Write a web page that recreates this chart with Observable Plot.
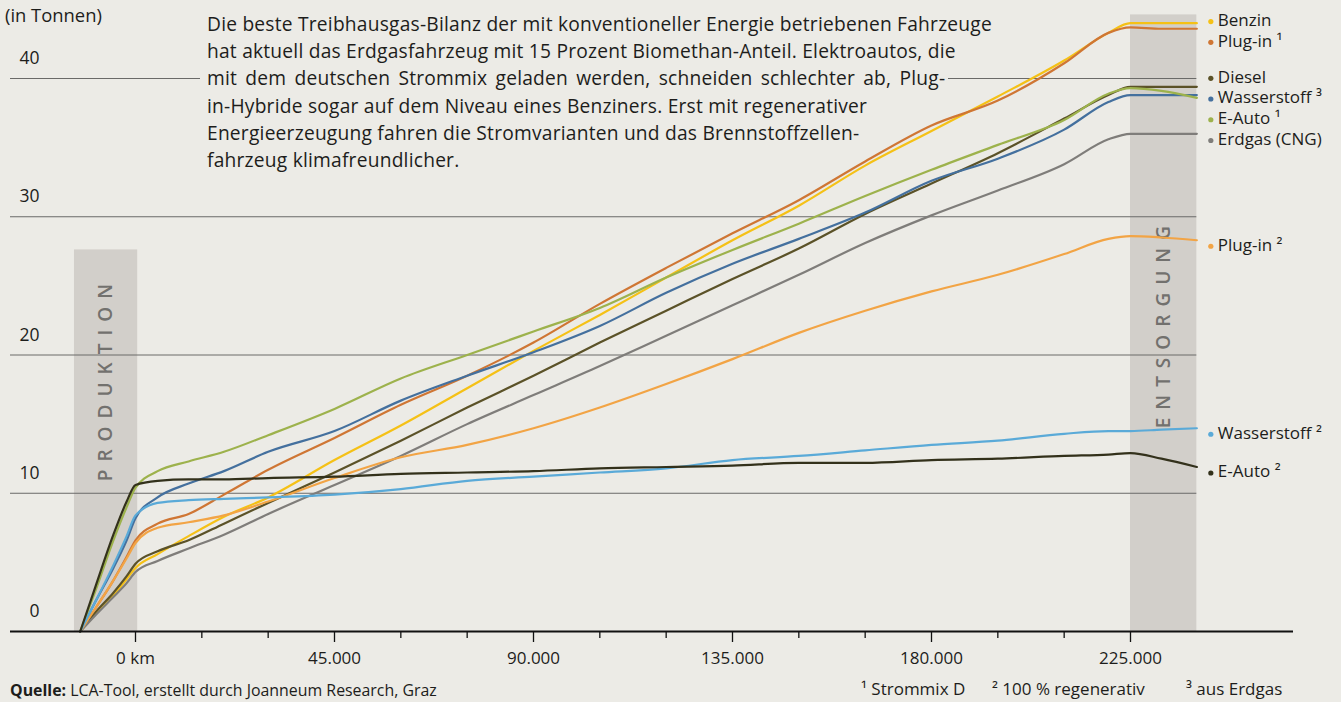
<!DOCTYPE html>
<html><head><meta charset="utf-8">
<script src="https://cdn.jsdelivr.net/npm/d3@7"></script>
<script src="https://cdn.jsdelivr.net/npm/@observablehq/plot@0.6"></script>
<style>
html,body{margin:0;padding:0;background:#ecebe6;}
#wrap{position:relative;width:1341px;height:702px;overflow:hidden;font-family:"Open Sans",sans-serif;color:#1d1d1b;}
#chart{position:absolute;left:0;top:0;}
.unit{position:absolute;left:5px;top:2px;font-size:18.4px;line-height:26px;}
.para{position:absolute;left:200px;top:10px;font-size:19.2px;letter-spacing:0.22px;line-height:27.2px;}
.para div{background:#ecebe6;width:fit-content;padding-left:7px;padding-right:3px;white-space:nowrap;}
.para div.wide{word-spacing:3px;}
.src{position:absolute;left:10px;top:679px;font-size:15.9px;line-height:22px;white-space:nowrap;}
.src b{font-weight:700;}
.note{position:absolute;top:677px;font-size:17px;line-height:24px;white-space:nowrap;}
</style>
</head>
<body>
<div id="wrap">
  <div id="chart"></div>
  <div class="unit">(in Tonnen)</div>
  <div class="para">
    <div>Die beste Treibhausgas-Bilanz der mit konventioneller Energie betriebenen Fahrzeuge</div>
    <div>hat aktuell das Erdgasfahrzeug mit 15 Prozent Biomethan-Anteil. Elektroautos, die</div>
    <div class="wide">mit dem deutschen Strommix geladen werden, schneiden schlechter ab, Plug-</div>
    <div>in-Hybride sogar auf dem Niveau eines Benziners. Erst mit regenerativer</div>
    <div>Energieerzeugung fahren die Stromvarianten und das Brennstoffzellen-</div>
    <div>fahrzeug klimafreundlicher.</div>
  </div>
  <div class="src"><b>Quelle:</b> LCA-Tool, erstellt durch Joanneum Research, Graz</div>
  <div class="note" style="left:861px">¹ Strommix D</div>
  <div class="note" style="left:992px">² 100 % regenerativ</div>
  <div class="note" style="left:1186px">³ aus Erdgas</div>
</div>
<script>
// Kilometerstand (negative Werte = Produktionsphase, > 225.000 = Entsorgung)
const km = [-12500, -9000, -5000, -2000, 0, 5000, 12000, 20000, 30000, 45000, 60000, 75000, 90000,
  105000, 120000, 135000, 150000, 165000, 180000, 195000, 210000, 220000, 225000, 232000, 240000];

// CO2-Bilanz in Tonnen
const benzin  = [0, 1.3, 2.6, 3.8, 4.6, 5.6, 6.9, 8.3, 9.7, 12.4, 14.9, 17.6, 20.3, 22.9, 25.6, 28.3, 30.8, 33.7, 36.2, 38.7, 41.3, 43.3, 44.0, 44.0, 44.0];
const plugin1 = [0, 1.7, 3.7, 5.4, 6.6, 7.8, 8.5, 9.9, 11.7, 14.0, 16.4, 18.5, 20.9, 23.7, 26.3, 28.8, 31.2, 34.0, 36.6, 38.4, 41.1, 43.3, 43.7, 43.6, 43.6];
const diesel  = [0, 1.4, 2.8, 4.0, 4.9, 5.8, 6.6, 7.8, 9.3, 11.5, 13.8, 16.2, 18.5, 20.9, 23.2, 25.5, 27.7, 30.2, 32.4, 34.6, 37.1, 38.8, 39.4, 39.4, 39.4];
const wasser3 = [0, 2.2, 4.6, 6.6, 8.2, 9.7, 10.7, 11.6, 13.0, 14.5, 16.7, 18.5, 20.2, 22.1, 24.5, 26.6, 28.4, 30.3, 32.6, 34.2, 36.3, 38.3, 38.8, 38.8, 38.8];
const eauto1  = [0, 3.0, 6.6, 9.0, 10.4, 11.6, 12.3, 13.0, 14.2, 16.1, 18.3, 20.0, 21.7, 23.4, 25.6, 27.6, 29.5, 31.5, 33.4, 35.2, 37.0, 38.9, 39.3, 39.1, 38.6];
const erdgas  = [0, 1.2, 2.5, 3.5, 4.3, 5.1, 6.0, 7.0, 8.5, 10.6, 12.7, 15.0, 17.1, 19.2, 21.4, 23.6, 25.8, 28.1, 30.1, 31.9, 33.8, 35.6, 36.0, 36.0, 36.0];
const plugin2 = [0, 1.7, 3.7, 5.3, 6.4, 7.5, 7.9, 8.4, 9.4, 11.1, 12.6, 13.5, 14.7, 16.2, 17.9, 19.7, 21.6, 23.2, 24.6, 25.8, 27.3, 28.4, 28.6, 28.5, 28.3];
const wasser2 = [0, 2.2, 4.8, 6.9, 8.4, 9.3, 9.5, 9.6, 9.7, 9.9, 10.3, 10.9, 11.2, 11.5, 11.8, 12.4, 12.7, 13.1, 13.5, 13.8, 14.3, 14.5, 14.5, 14.6, 14.7];
const eauto2  = [0, 3.3, 7.0, 9.4, 10.6, 10.9, 11.0, 11.0, 11.1, 11.2, 11.4, 11.5, 11.6, 11.8, 11.9, 12.0, 12.2, 12.2, 12.4, 12.5, 12.7, 12.8, 12.9, 12.5, 11.9];

const seriesNames = ["Benzin", "Plug-in ¹", "Diesel", "Wasserstoff ³", "E-Auto ¹", "Erdgas (CNG)", "Plug-in ²", "Wasserstoff ²", "E-Auto ²"];
const seriesValues = [benzin, plugin1, diesel, wasser3, eauto1, erdgas, plugin2, wasser2, eauto2];
const seriesColors = ["#f5c116", "#cf7634", "#5b5228", "#44709e", "#9db24c", "#7f7d7a", "#f2a445", "#5aaad8", "#33311b"];

const yTicks = [0, 10, 20, 30, 40];
const xMajorTicks = [0, 45000, 90000, 135000, 180000, 225000];
const xMinorTicks = [15000, 30000, 60000, 75000, 105000, 120000, 150000, 165000, 195000, 210000];

const phaseNames = ["PRODUKTION", "ENTSORGUNG"];
const phaseFrom = [-13800, 225000];
const phaseTo = [500, 240000];
const phaseTop = [27.6, 44.6];

// layout of the scales
const W = 1341, H = 702, mLeft = 10, mRight = 48, mBottom = 71;
const xDomain = [0, 225000], xRange = [135, 1130];
const yDomain = [0, 40], yRange = [H - mBottom, 78];
const xScale = d3.scaleLinear(xDomain, xRange);
const frameLeftKm = xScale.invert(mLeft);

// long table for the lines
const rows = [];
seriesNames.forEach((name, i) => km.forEach((k, j) => rows.push({series: name, km: k, t: seriesValues[i][j]})));

// end labels, spread apart to avoid overlap
const ends = seriesNames.map((name, i) => ({name, color: seriesColors[i], end: seriesValues[i][seriesValues[i].length - 1]}));
const sorted = [...ends].sort((a, b) => b.end - a.end);
sorted.forEach(d => d.pos = d.end);
const gap = 1.5;
for (let k = 0; k < 300; k++) {
  for (let i = 1; i < sorted.length; i++) {
    const o = gap - (sorted[i - 1].pos - sorted[i].pos);
    if (o > 0) { sorted[i - 1].pos += o / 2; sorted[i].pos -= o / 2; }
  }
}

const phases = phaseNames.map((name, i) => ({name, from: phaseFrom[i], to: phaseTo[i], top: phaseTop[i], mid: (phaseFrom[i] + phaseTo[i]) / 2}));
const fmtKm = d => d === 0 ? "0 km" : d3.format(",")(d).replace(/,/g, ".");
const lastKm = km[km.length - 1];

const chart = Plot.plot({
  width: W,
  height: H,
  marginLeft: mLeft,
  marginRight: mRight,
  marginTop: 0,
  marginBottom: mBottom,
  style: {background: "transparent", fontFamily: "'Open Sans', sans-serif", color: "#1d1d1b"},
  x: {domain: xDomain, range: xRange},
  y: {domain: yDomain, range: yRange, axis: null},
  color: {domain: seriesNames, range: seriesColors},
  marks: [
    Plot.rect(phases, {x1: "from", x2: "to", y1: 0, y2: "top", fill: "#d2cfca"}),
    Plot.ruleY(yTicks.filter(d => d > 0), {x1: frameLeftKm, x2: lastKm, stroke: "#6a6a68", strokeWidth: 1}),
    Plot.text(yTicks, {y: d => d, text: d => String(d), frameAnchor: "left", textAnchor: "end", dx: 29, dy: -20, fontSize: 17.5, fill: "#1d1d1b"}),
    Plot.text(phases.filter(d => d.name === "PRODUKTION"), {x: "mid", y: "top", text: "name", rotate: -90, textAnchor: "end", dy: 26, fontSize: 19, fontWeight: 600, fill: "#72716e"}),
    Plot.text(phases.filter(d => d.name === "ENTSORGUNG"), {x: "mid", y: d => d.top / 2, text: "name", rotate: -90, textAnchor: "middle", fontSize: 19, fontWeight: 600, fill: "#72716e"}),
    Plot.line(rows, {x: "km", y: "t", z: "series", stroke: "series", strokeWidth: 2.2, curve: "monotone-x"}),
    Plot.ruleY([0], {stroke: "#111", strokeWidth: 2}),
    Plot.axisX({ticks: xMajorTicks, tickSize: 11, tickPadding: 9, tickFormat: fmtKm, fontSize: 17, stroke: "#111", strokeWidth: 1.3}),
    Plot.axisX({ticks: xMinorTicks, tickSize: 7, tickFormat: () => "", stroke: "#111", strokeWidth: 1.3}),
    Plot.dot(ends, {x: lastKm, y: "pos", fill: "color", r: 2.6, dx: 14, dy: 6}),
    Plot.text(ends, {x: lastKm, y: "pos", text: "name", textAnchor: "start", dx: 21, dy: 5, fontSize: 17, fill: "#1d1d1b"})
  ]
});
document.getElementById("chart").appendChild(chart);
d3.select(chart).selectAll("text").filter(function() { return this.textContent === "PRODUKTION" || this.textContent === "ENTSORGUNG"; })
  .style("letter-spacing", "8px");
</script>
</body></html>
